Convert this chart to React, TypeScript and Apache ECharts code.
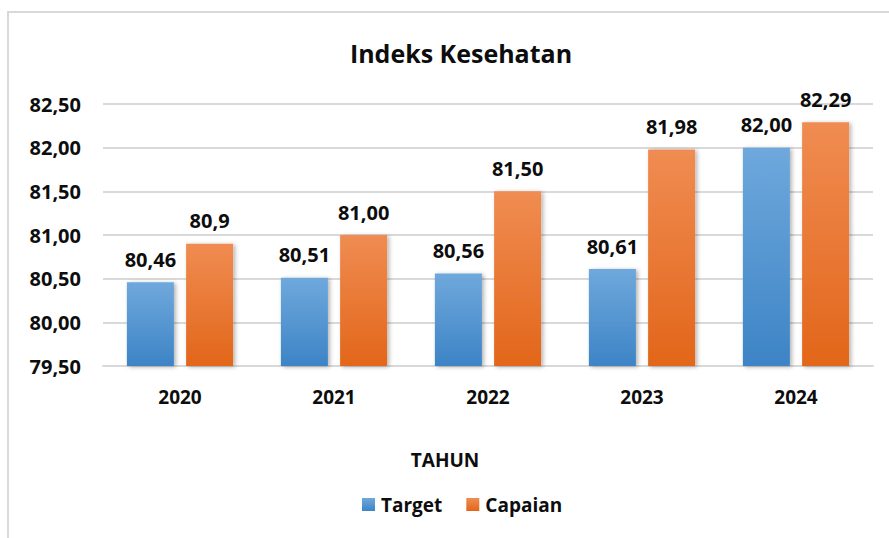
import React, { useEffect, useRef } from "react";
import * as echarts from "echarts";

const categories = ["2020", "2021", "2022", "2023", "2024"];
const targetValues = [80.46, 80.51, 80.56, 80.61, 82.0];
const capaianValues = [80.9, 81.0, 81.5, 81.98, 82.29];
const targetLabels = ["80,46", "80,51", "80,56", "80,61", "82,00"];
const capaianLabels = ["80,9", "81,00", "81,50", "81,98", "82,29"];
const seriesNames = ["Target", "Capaian"];

const FONT = "'Open Sans', 'Noto Sans', sans-serif";

export default function App() {
  const ref = useRef<HTMLDivElement>(null);
  useEffect(() => {
    document.body.style.margin = "0";
    const chart = echarts.init(ref.current!, null, { renderer: "svg" });
    const blue = new echarts.graphic.LinearGradient(0, 0, 0, 1, [
      { offset: 0, color: "#6fa8dc" },
      { offset: 1, color: "#3d84c6" },
    ]);
    const orange = new echarts.graphic.LinearGradient(0, 0, 0, 1, [
      { offset: 0, color: "#f08c52" },
      { offset: 1, color: "#e2661a" },
    ]);
    const labelStyle = {
      show: true,
      position: "top" as const,
      distance: 13,
      color: "#0d0d0d",
      fontFamily: FONT,
      fontWeight: "bold" as const,
      fontSize: 20,
    };
    chart.setOption({
      animation: false,
      backgroundColor: "#ffffff",
      title: {
        text: "Indeks Kesehatan",
        left: 456,
        top: 35,
        textAlign: "center",
        textStyle: {
          fontFamily: FONT,
          fontWeight: "bold",
          fontSize: 25,
          color: "#0d0d0d",
        },
      },
      graphic: [
        {
          type: "rect",
          shape: { x: 8, y: 12, width: 920, height: 620 },
          style: { fill: "none", stroke: "#d9d9d9", lineWidth: 2 },
          silent: true,
        },
        {
          type: "text",
          x: 445,
          y: 460,
          style: {
            text: "TAHUN",
            textAlign: "center",
            textVerticalAlign: "middle",
            fontFamily: FONT,
            fontWeight: "bold",
            fontSize: 19,
            fill: "#0d0d0d",
          },
        },
      ],
      legend: {
        data: seriesNames,
        left: 357,
        top: 490,
        icon: "rect",
        itemWidth: 13,
        itemHeight: 13,
        itemGap: 24,
        textStyle: {
          fontFamily: FONT,
          fontWeight: "bold",
          fontSize: 19,
          color: "#0d0d0d",
          padding: [0, 0, 0, 1],
        },
      },
      grid: { left: 103, right: 16, top: 104, bottom: 172 },
      xAxis: {
        type: "category",
        data: categories,
        axisLine: { show: true, lineStyle: { color: "#d9d9d9", width: 2 } },
        axisTick: { show: false },
        axisLabel: {
          margin: 21,
          color: "#0d0d0d",
          fontFamily: FONT,
          fontWeight: "bold",
          fontSize: 19,
        },
      },
      yAxis: {
        type: "value",
        min: 79.5,
        max: 82.5,
        interval: 0.5,
        axisLine: { show: false },
        axisTick: { show: false },
        splitLine: { lineStyle: { color: "#d9d9d9", width: 2 } },
        axisLabel: {
          margin: 22,
          color: "#0d0d0d",
          fontFamily: FONT,
          fontWeight: "bold",
          fontSize: 20,
          formatter: (v: number) => v.toFixed(2).replace(".", ","),
        },
      },
      series: [
        {
          name: seriesNames[0],
          type: "bar",
          data: targetValues,
          barWidth: 47,
          barGap: "26%",
          itemStyle: {
            color: blue,
            shadowBlur: 4,
            shadowColor: "rgba(0,0,0,0.3)",
            shadowOffsetX: 2,
            shadowOffsetY: 1,
          },
          label: {
            ...labelStyle,
            formatter: (p: any) => targetLabels[p.dataIndex],
          },
        },
        {
          name: seriesNames[1],
          type: "bar",
          data: capaianValues,
          barWidth: 47,
          itemStyle: {
            color: orange,
            shadowBlur: 4,
            shadowColor: "rgba(0,0,0,0.3)",
            shadowOffsetX: 2,
            shadowOffsetY: 1,
          },
          label: {
            ...labelStyle,
            formatter: (p: any) => capaianLabels[p.dataIndex],
          },
        },
      ],
    });
    return () => chart.dispose();
  }, []);
  return <div ref={ref} style={{ width: 889, height: 538 }} />;
}
